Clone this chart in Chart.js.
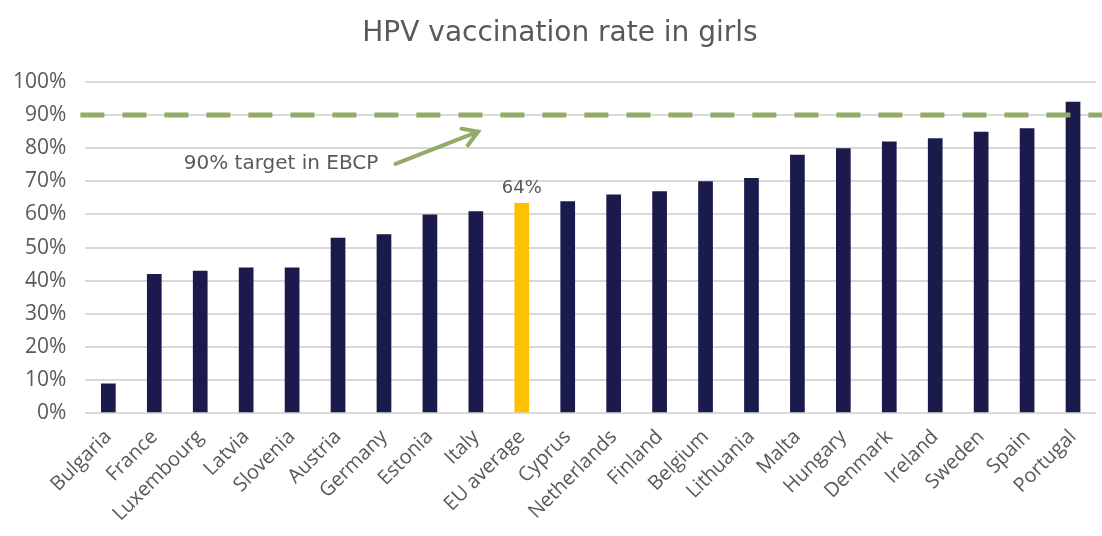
<!DOCTYPE html>
<html>
<head>
<meta charset="utf-8">
<script src="https://cdn.jsdelivr.net/npm/chart.js@4"></script>
<style>
  html, body { margin: 0; padding: 0; background: #fff; }
  #wrap { width: 1102px; height: 536px; position: relative; }
</style>
</head>
<body>
<div id="wrap"><canvas id="hpv-chart"></canvas></div>
<script>
// HPV 백신 접종률 (여아) — 국가별 막대 + EU 평균 강조 + 90% 목표선
const COUNTRIES = ['Bulgaria', 'France', 'Luxembourg', 'Latvia', 'Slovenia', 'Austria', 'Germany',
  'Estonia', 'Italy', 'EU average', 'Cyprus', 'Netherlands', 'Finland', 'Belgium', 'Lithuania',
  'Malta', 'Hungary', 'Denmark', 'Ireland', 'Sweden', 'Spain', 'Portugal'];
const RATES = [9, 42, 43, 44, 44, 53, 54, 60, 61, 63.5, 64, 66, 67, 70, 71, 78, 80, 82, 83, 85, 86, 94];
const Y_TICKS = [0, 10, 20, 30, 40, 50, 60, 70, 80, 90, 100];
const TARGET = 90;
const TITLE = 'HPV vaccination rate in girls';
const TARGET_LABEL = '90% target in EBCP';
const EU_LABEL = 'EU average';

const NAVY = '#1b1a4d';
const GOLD = '#ffc000';
const GREEN = '#92ab66';
const TEXT = '#595959';
const FONT = "'Open Sans', sans-serif";
const FONT_T = "'DejaVu Sans', sans-serif";   // 제목·주석 (Tahoma 비슷)

// 제목 — 원본은 캔버스 중앙보다 약간 오른쪽에 있어 직접 그림
const titlePlugin = {
  id: 'titleText',
  afterDraw(chart) {
    const { ctx, chartArea } = chart;
    ctx.save();
    ctx.fillStyle = TEXT;
    ctx.font = `28px ${FONT_T}`;
    ctx.textAlign = 'center';
    ctx.textBaseline = 'middle';
    ctx.fillText(TITLE, chart.width / 2 + 9, chartArea.top - 48);
    ctx.restore();
  }
};

// 목표선(점선) + 화살표 주석 + EU 평균 값 라벨
const overlay = {
  id: 'overlay',
  afterDatasetsDraw(chart) {
    const { ctx, chartArea, scales: { x, y } } = chart;
    ctx.save();

    // 90% dashed target
    const ty = y.getPixelForValue(TARGET);
    ctx.strokeStyle = GREEN;
    ctx.lineWidth = 5;
    ctx.setLineDash([24, 18]);
    ctx.beginPath();
    ctx.moveTo(chartArea.left - 5, ty);
    ctx.lineTo(chart.width, ty);
    ctx.stroke();
    ctx.setLineDash([]);

    // annotation text + arrow
    ctx.fillStyle = TEXT;
    ctx.font = `20px ${FONT_T}`;
    ctx.textAlign = 'center';
    ctx.textBaseline = 'middle';
    ctx.fillText(TARGET_LABEL, x.getPixelForValue(3.76), y.getPixelForValue(75.3));

    const x0 = x.getPixelForValue(6.25), y0 = y.getPixelForValue(75.3);
    const x1 = x.getPixelForValue(8.05), y1 = y.getPixelForValue(85);
    ctx.strokeStyle = GREEN;
    ctx.lineWidth = 4;
    ctx.lineCap = 'round';
    ctx.beginPath();
    ctx.moveTo(x0, y0);
    ctx.lineTo(x1, y1);
    const ang = Math.atan2(y1 - y0, x1 - x0);
    const hl = 17;
    ctx.moveTo(x1 - hl * Math.cos(ang - 0.55), y1 - hl * Math.sin(ang - 0.55));
    ctx.lineTo(x1, y1);
    ctx.lineTo(x1 - hl * Math.cos(ang + 0.55), y1 - hl * Math.sin(ang + 0.55));
    ctx.stroke();

    // EU average value label
    const i = COUNTRIES.indexOf(EU_LABEL);
    const bar = chart.getDatasetMeta(0).data[i];
    ctx.fillStyle = TEXT;
    ctx.font = `18px ${FONT_T}`;
    ctx.textBaseline = 'bottom';
    ctx.fillText(Math.round(RATES[i]) + '%', bar.x, bar.y - 6);

    ctx.restore();
  }
};

new Chart(document.getElementById('hpv-chart').getContext('2d'), {
  type: 'bar',
  data: {
    labels: COUNTRIES,
    datasets: [{
      data: RATES,
      backgroundColor: COUNTRIES.map(c => c === EU_LABEL ? GOLD : NAVY),
      borderWidth: 0,
      barPercentage: 0.32,
      categoryPercentage: 1,
    }]
  },
  options: {
    responsive: true,
    maintainAspectRatio: false,
    animation: false,
    layout: { padding: { left: -6, right: 6, top: 82, bottom: 6 } },
    plugins: {
      legend: { display: false },
      tooltip: { enabled: false },
      title: { display: false },
    },
    scales: {
      x: {
        grid: { display: false },
        border: { display: false },
        ticks: {
          color: TEXT,
          font: { family: FONT, size: 20 },
          minRotation: 45,
          maxRotation: 45,
          autoSkip: false,
          padding: 4,
        },
      },
      y: {
        min: 0,
        max: 100,
        afterBuildTicks: axis => { axis.ticks = Y_TICKS.map(v => ({ value: v })); },
        grid: { color: '#d9d9d9', lineWidth: 2, drawTicks: false },
        border: { display: false },
        ticks: {
          color: TEXT,
          font: { family: FONT, size: 21 },
          padding: 19,
          callback: v => v + '%',
        },
      },
    },
  },
  plugins: [overlay, titlePlugin],
});
</script>
</body>
</html>
